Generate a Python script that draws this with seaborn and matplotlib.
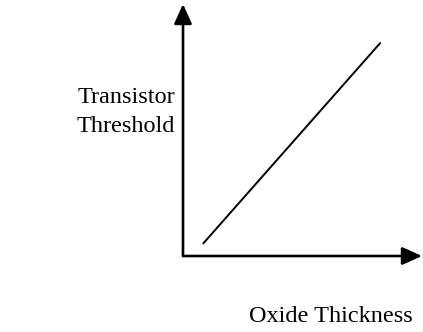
import matplotlib
matplotlib.use("Agg")
import matplotlib.pyplot as plt
import seaborn as sns
import pandas as pd

# Data
oxide_thickness = [0.085, 0.825]
transistor_threshold = [0.05, 0.845]
x_label = "Oxide Thickness"
y_label = "Transistor\nThreshold"

sns.set_theme(style="white")
plt.rcParams['font.family'] = ['Liberation Serif', 'DejaVu Serif']

W, H = 423, 332
fig = plt.figure(figsize=(W / 100, H / 100), dpi=100)
ox, oy = 183, 256
ax = fig.add_axes([ox / W, (H - oy) / H, (422 - ox) / W, (oy - 4) / H])
ax.set_xlim(0, 1)
ax.set_ylim(0, 1)

df = pd.DataFrame({"x": oxide_thickness, "y": transistor_threshold})
sns.lineplot(data=df, x="x", y="y", ax=ax, color="black", linewidth=1.4)

for s in ax.spines.values():
    s.set_visible(False)
ax.set_xticks([])
ax.set_yticks([])
ax.set_xlabel("")
ax.set_ylabel("")

arrow = dict(arrowstyle="-|>,head_length=1.0,head_width=0.45", color="black", lw=1.9,
             shrinkA=0, shrinkB=0)
ax.annotate("", xy=(1, 0), xytext=(0, 0), xycoords="axes fraction", arrowprops=arrow)
ax.annotate("", xy=(0, 1), xytext=(0, 0), xycoords="axes fraction", arrowprops=arrow)

fig.text(175 / W, 1 - 112 / H, y_label, ha="right", va="center", fontsize=17.5,
         linespacing=1.45, color="black")
fig.text(413 / W, 1 - 322 / H, x_label, ha="right", va="baseline", fontsize=17.5,
         color="black")

fig.savefig("out.png", dpi=100)
